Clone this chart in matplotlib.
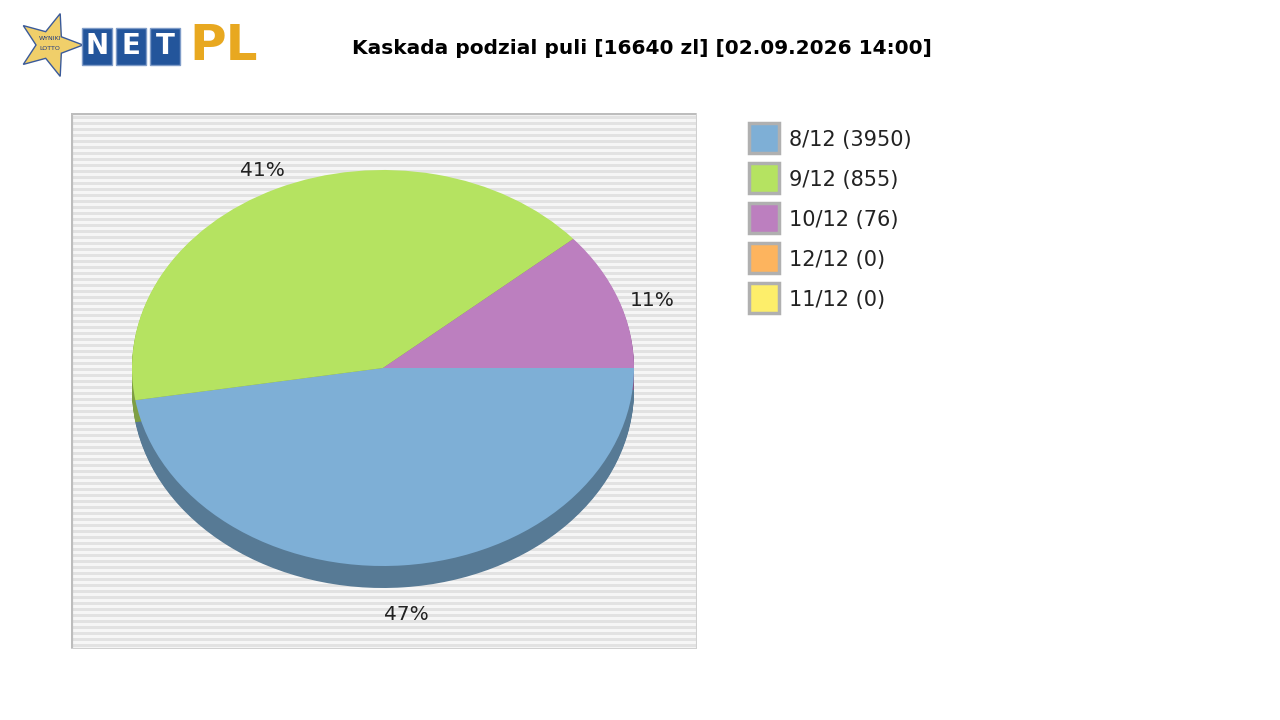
import matplotlib.pyplot as plt
import numpy as np
from matplotlib.patches import Wedge, Rectangle, Polygon

labels = ["8/12 (3950)", "9/12 (855)", "10/12 (76)", "12/12 (0)", "11/12 (0)"]
shares = [47.4, 41.3, 11.3, 0, 0]
pct_labels = ["47%", "41%", "11%"]
colors = ["#7eafd6", "#b5e361", "#bc7fbf", "#fdb45e", "#fdee6a"]
shadow = ["#577a95", "#7e9e43", "#835985"]
title = "Kaskada podzial puli [16640 zl] [02.09.2026 14:00]"

W, H = 1280, 720
fig = plt.figure(figsize=(12.8, 7.2), dpi=100)

def fx(x): return x / W
def fy(y): return 1 - y / H

# plot area, x in pixels, y scaled so circles become ellipses
k = 251 / 198
ax = fig.add_axes([fx(71), fy(649), 626 / W, 536 / H])
ax.set_xlim(71, 697)
ax.set_ylim(71 * k, 607 * k)
ax.axis("off")
ax.add_patch(Rectangle((71, 71 * k), 626, 536 * k, color="#f6f6f6", zorder=0))
for yy in np.arange(73, 607, 6):
    ax.add_patch(Rectangle((71, yy * k), 626, 3 * k, color="#e2e2e2", lw=0, zorder=0))
ax.plot([71, 71, 697], [71 * k, 607 * k, 607 * k], color="#bdbdbd", lw=3, zorder=1)
ax.plot([71, 697, 697], [71 * k, 71 * k, 607 * k], color="#d0d0d0", lw=1.5, zorder=1)

cx, cy, r = 383, 352 * k, 251
dep = 22 * k
ang = 0
wedges = []
for v, c in zip(shares, colors):
    t = 360 * v / sum(shares)
    if t > 0:
        wedges.append((ang - t, ang, c))
    ang -= t
for i, (a1, a2, c) in enumerate(wedges):
    for d in np.linspace(dep, 0, 23)[:-1]:
        ax.add_patch(Wedge((cx, cy - d), r, a1, a2, color=shadow[i], lw=0, zorder=2))
for a1, a2, c in wedges:
    ax.add_patch(Wedge((cx, cy), r, a1, a2, color=c, lw=0, zorder=3))

for txt, (x, y) in zip(pct_labels, [(406, 614), (262, 170), (652, 300)]):
    fig.text(fx(x), fy(y), txt, ha="center", va="center", fontsize=14.5, color="#222222")

fig.text(fx(642), fy(48), title, ha="center", va="center", fontsize=14.5, fontweight="bold")

# legend
for i, (lab, c) in enumerate(zip(labels, colors)):
    y = 138 + 40 * i
    fig.patches.append(Rectangle((fx(749), fy(y + 15)), 30 / W, 30 / H, transform=fig.transFigure,
                                 facecolor=c, edgecolor="#b0b0b0", lw=2.5))
    fig.text(fx(789), fy(y + 2), lab, ha="left", va="center", fontsize=15, color="#222222")

# logo
star = []
for j in range(10):
    a = j * np.pi / 5
    rr = 33 if j % 2 == 0 else 14
    star.append((fx(50 + rr * np.cos(a)), fy(45 - rr * np.sin(a))))
fig.patches.append(Polygon(star, closed=True, transform=fig.transFigure,
                           facecolor="#f0cf6a", edgecolor="#3a5a9a", lw=1))
fig.text(fx(50), fy(39), "WYNIKI", ha="center", va="center", fontsize=4.5, color="#203a80")
fig.text(fx(50), fy(49), "LOTTO", ha="center", va="center", fontsize=4.5, color="#203a80")
for letter, x0 in zip("NET", [82, 116, 150]):
    fig.patches.append(Rectangle((fx(x0), fy(65)), 30 / W, 37 / H, transform=fig.transFigure,
                                 facecolor="#23559b", edgecolor="#7f9cc8", lw=1))
    fig.text(fx(x0 + 15), fy(46), letter, ha="center", va="center", fontsize=20,
             fontweight="bold", color="white")
fig.text(fx(189), fy(46), "PL", ha="left", va="center", fontsize=36, fontweight="bold",
         color="#e8a820")

fig.savefig("out.png", dpi=100)
